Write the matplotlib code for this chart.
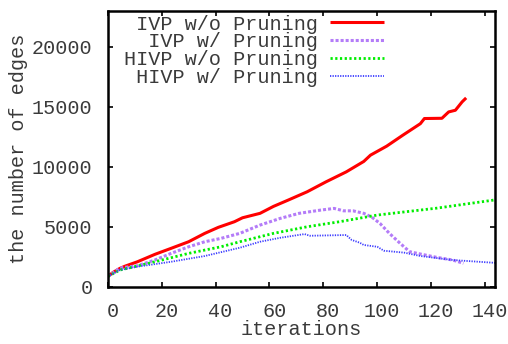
import numpy as np
import matplotlib
matplotlib.use("Agg")
import matplotlib.pyplot as plt
from matplotlib.transforms import ScaledTranslation

# values
red_it = [0, 2, 4.5, 6.5, 11, 17.5, 23.5, 30, 36, 41, 47, 50, 56.5, 61.5, 67,
          74, 81, 88.5, 95, 97.5, 103.5, 109.5, 116, 117.5, 124, 126.5, 129,
          131.5, 133]
red_val = [850, 1200, 1530, 1720, 2080, 2700, 3200, 3750, 4450, 4950, 5420,
           5750, 6120, 6700, 7230, 7920, 8750, 9580, 10450, 10975, 11725,
           12640, 13600, 14030, 14050, 14580, 14720, 15420, 15750]

purple_it = [0, 4.5, 11, 17.5, 23.5, 30, 36, 42, 49, 56.5, 64, 71, 79, 84,
             87.5, 91, 95, 98, 101, 104.5, 108.5, 112, 116, 122, 128, 132]
purple_val = [850, 1560, 1750, 2225, 2780, 3330, 3750, 4030, 4450, 5140, 5700,
              6120, 6390, 6530, 6330, 6330, 6120, 5800, 5280, 4450, 3615, 2920,
              2725, 2450, 2225, 1950]

green_it = [0, 4.5, 11, 17.5, 30, 42, 49, 61.5, 74, 86, 100, 122, 144]
green_val = [850, 1390, 1725, 2080, 2780, 3330, 3750, 4450, 5000, 5420, 5975,
             6550, 7250]

blue_it = [0, 4.5, 11, 23.5, 36, 49, 56.5, 64, 73, 75, 88.5, 90.5, 93.5, 95,
           100, 102.5, 110, 116, 128, 143, 144]
blue_val = [850, 1390, 1670, 2080, 2560, 3250, 3750, 4080, 4390, 4250, 4310,
            3900, 3670, 3480, 3330, 3000, 2840, 2560, 2225, 2000, 1980]

labels = [" IVP w/o Pruning", "  IVP w/ Pruning",
          "HIVP w/o Pruning", " HIVP w/ Pruning"]
xticks = np.arange(0, 141, 20)
yticks = np.arange(0, 20001, 5000)

plt.rcParams['font.family'] = ['Liberation Mono', 'DejaVu Sans Mono']
fs = 14.5
txt = '#3a3a3a'

fig = plt.figure(figsize=(5.08, 3.44), dpi=100)
ax = fig.add_axes([0.2122, 0.1666, 0.7622, 0.8014])

ax.plot(red_it, red_val, color='#ff0000', lw=2.2, solid_capstyle='butt',
        label=labels[0])
ax.plot(purple_it, purple_val, color='#b47cf8', lw=2.2, dashes=(1.0, 0.65),
        label=labels[1])
ax.plot(green_it, green_val, color='#00ee00', lw=2.0, dashes=(0.8, 0.9),
        label=labels[2])
ax.plot(blue_it, blue_val, color='#3c3cff', lw=1.3, dashes=(0.7, 0.7),
        label=labels[3])

ax.set_xlim(0, 143.7)
ax.set_ylim(0, 23000)
ax.set_xticks(xticks)
ax.set_yticks(yticks)
ax.tick_params(direction='in', length=3.5, width=1.2, top=True, right=True,
               labelsize=fs, labelcolor=txt)
ax.tick_params(axis='x', pad=11)
ax.tick_params(axis='y', pad=11)
for lab in ax.get_xticklabels():
    lab.set_transform(lab.get_transform() +
                      ScaledTranslation(5 / 100, 0, fig.dpi_scale_trans))
for s in ax.spines.values():
    s.set_linewidth(1.8)

ax.set_xlabel("iterations", fontsize=fs, color=txt, labelpad=-1)
ax.set_ylabel("the number of edges", fontsize=fs, color=txt, labelpad=3)

leg = ax.legend(loc='upper right', bbox_to_anchor=(384 / 508, 1 - 14.5 / 344),
                bbox_transform=fig.transFigure, frameon=False,
                markerfirst=False, fontsize=fs, handlelength=2.7,
                handletextpad=0.6, labelspacing=-0.05, borderpad=0,
                borderaxespad=0)
for t in leg.get_texts():
    t.set_color(txt)

fig.savefig("out.png", dpi=100)
